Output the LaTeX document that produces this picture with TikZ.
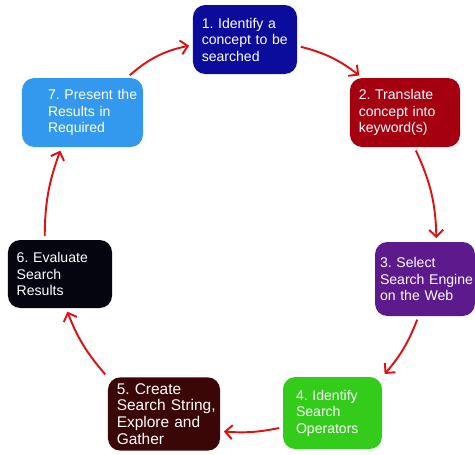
\documentclass[tikz,border=0pt]{standalone}
\usepackage{fontspec}
\setmainfont{Liberation Sans}
\usepackage{tikz}
\usetikzlibrary{arrows.meta}

\definecolor{stepone}{HTML}{0B0B9C}
\definecolor{steptwo}{HTML}{A5000F}
\definecolor{stepthree}{HTML}{5C1A8C}
\definecolor{stepfour}{HTML}{33CC1A}
\definecolor{stepfive}{HTML}{3A0606}
\definecolor{stepsix}{HTML}{050510}
\definecolor{stepseven}{HTML}{3399EE}
\definecolor{cycred}{HTML}{DD1111}

\tikzset{
  stage/.style = {rectangle, rounded corners = 7pt, text = white, align = left,
    font = \fontsize{8}{9.4}\selectfont\frenchspacing, inner xsep = 5pt, minimum height = 1.4cm},
  cyc/.style = {cycred, line width = 1.1pt, -{Straight Barb[length=4pt, width=8pt]},
    shorten <= 2pt, shorten >= 2pt}
}

\begin{document}
\begin{tikzpicture}
\useasboundingbox (0,0) rectangle (9.5,9.08);

% the seven steps
\node[stage, fill = stepone, text width = 1.73cm, minimum height = 1.38cm] (s1) at (4.9,8.29) {1. Identify a\\concept to be\\searched};
\node[stage, fill = steptwo, text width = 1.85cm, minimum height = 1.38cm] (s2) at (8.1,6.83) {2. Translate\\concept into\\keyword(s)};
\node[stage, fill = stepthree, text width = 1.8cm, inner xsep = 2.8pt, minimum height = 1.48cm] (s3) at (8.5,3.5) {3. Select\\\mbox{Search Engine}\\on the Web};
\node[stage, fill = stepfour, text width = 1.46cm, inner xsep = 0.26cm, minimum height = 1.44cm] (s4) at (6.65,0.82) {4. Identify\\Search\\Operators};
\node[stage, fill = stepfive, text width = 1.89cm, font = \fontsize{8.8}{9.6}\selectfont\frenchspacing] (s5) at (3.28,0.8) {5. Create\\\mbox{Search String,}\\Explore and\\Gather};
\node[stage, fill = stepsix, text width = 1.73cm, minimum height = 1.36cm] (s6) at (1.2,3.6) {6. Evaluate\\Search\\Results};
\node[stage, fill = stepseven, text width = 1.38cm, inner xsep = 0.52cm, minimum height = 1.38cm] (s7) at (1.65,6.83) {\mbox{7. Present the}\\\mbox{Results in}\\Required};

% the cycle
\draw[cyc] (s1.-7) to[bend left = 12] (s2.141);
\draw[cyc] (s2.-75) to[bend left = 12] (s3.73);
\draw[cyc] (s3.-100) to[bend left = 10] (s4.north east);
\draw[cyc] (s4.-164) to[bend left = 8] (s5.-17);
\draw[cyc] (s5.north west) to[bend left = 10] (s6.-80);
\draw[cyc] (s6.114) to[bend left = 10] (s7.-121);
\draw[cyc] (s7.38) to[bend left = 15] (s1.-174);
\end{tikzpicture}
\end{document}
